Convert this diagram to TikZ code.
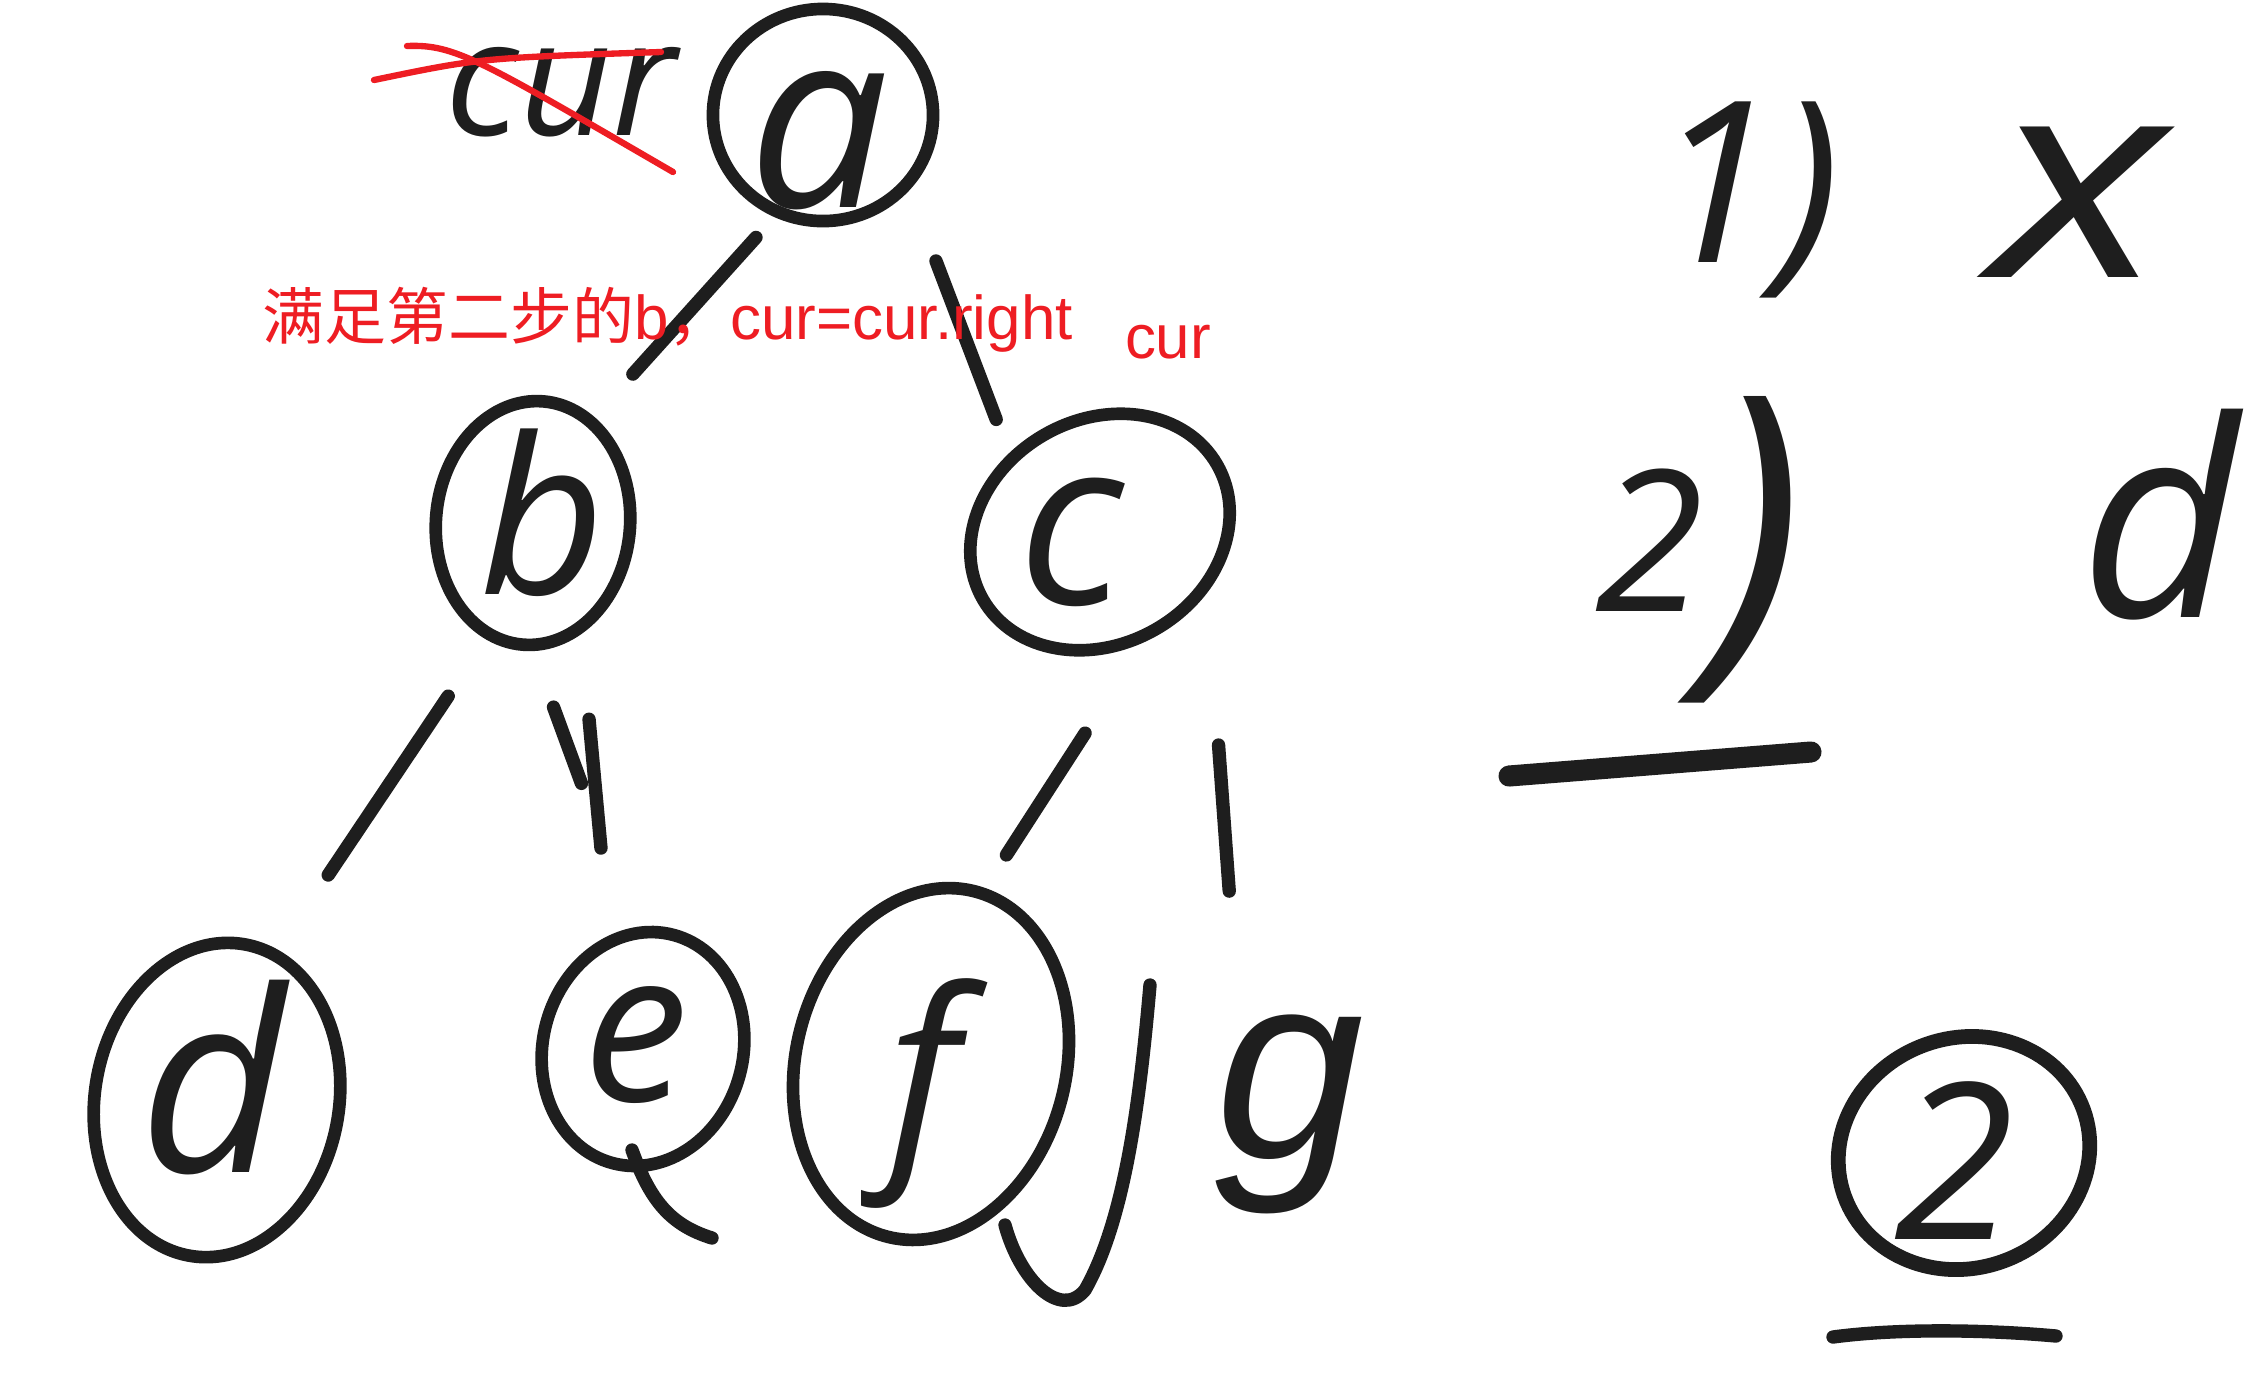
\documentclass[tikz,border=0pt]{standalone}
\usepackage{fontspec}
\setmainfont{Liberation Sans}
\newfontfamily\cjk{Noto Sans CJK SC}
\newfontfamily\handfont{Open Sans}
\usetikzlibrary{calc,shapes.geometric}
\definecolor{BoardInk}{HTML}{1E1E1E}
\definecolor{NoteRed}{HTML}{EE1D23}
\tikzset{
  ink/.style={BoardInk,line width=3.8pt,line cap=round,line join=round},
  ring/.style={ellipse,draw=BoardInk,line width=3.6pt,inner sep=0pt},
  letter/.style={text=BoardInk,inner sep=0pt,font=\handfont\itshape\fontsize{#1}{#1}\selectfont},
  note/.style={text=NoteRed,inner sep=0pt,font=\fontsize{17.6}{20}\selectfont},
  strike/.style={NoteRed,line width=1.8pt,line cap=round}
}

\begin{document}
\begin{tikzpicture}[x=0.01cm,y=-0.01cm]
\fill[white] (0,0) rectangle (2254,1396);
\useasboundingbox (0,0) rectangle (2254,1396);

% rings of the tree
\node[ring,minimum width=2.2cm,minimum height=2.12cm] (a) at (823,115) {};
\node[ring,minimum width=1.94cm,minimum height=2.44cm,rotate=-5] (b) at (533,523) {};
\node[ring,minimum width=2.7cm,minimum height=2.24cm,rotate=30] (c) at (1100,532) {};
\node[ring,minimum width=2.44cm,minimum height=3.16cm,rotate=-10] (d) at (217,1100) {};
\node[ring,minimum width=2cm,minimum height=2.36cm,rotate=-15] (e) at (643,1049) {};
\node[ring,minimum width=2.7cm,minimum height=3.56cm,rotate=-14] (f) at (931,1064) {};

% letters
\node[letter=71pt] (a-txt) at ($(a)+(-4,26)$) {a};
\node[letter=62pt] (b-txt) at ($(b)+(9,-10)$) {b};
\node[letter=66pt] (c-txt) at ($(c)+(-29,10)$) {c};
\node[letter=72pt] (d-txt) at ($(d)+(-4,-22)$) {d};
\node[letter=60pt] (e-txt) at ($(e)+(-7,-4)$) {e};
\node[letter=65pt] (f-txt) at ($(f)+(-8,29)$) {f};
\node[text=BoardInk,inner sep=0pt,font=\itshape\fontsize{76}{76}\selectfont] (g) at (1290,1114) {g};

% edges
\draw[ink] ($(a)!.30!(b)+(20,0)$) -- ($(a)!.635!(b)+(-6,0)$);
\draw[ink] ($(a)!.35!(c)+(16,0)$) -- ($(a)!.73!(c)+(-29,0)$);
\draw[ink] ($(b)!.30!(d)+(10,0)$) -- ($(b)!.61!(d)+(-12,0)$);
\draw[ink] ($(b)!.35!(e)+(-18,0)$) -- ($(b)!.495!(e)+(-6,0)$);
\draw[ink] ($(b)!.373!(e)+(15,0)$) -- ($(b)!.618!(e)$);
\draw[ink] ($(c)!.378!(f)+(49,0)$) -- ($(c)!.607!(f)+(9,0)$);
\draw[ink] ($(c)!.366!(g)+(49,0)$) -- ($(c)!.617!(g)+(12,0)$);

% extra strokes
\draw[ink] (632,1150) .. controls (650,1200) and (670,1225) .. (712,1238);
\draw[ink] (1150,985) .. controls (1140,1100) and (1125,1220) .. (1085,1290) .. controls (1060,1320) and (1020,1280) .. (1005,1225);

% crossed out cur
\node[letter=46pt] (cur-old) at (561,92) {cur};
\draw[strike] (374,80) .. controls (480,58) .. (661,52);
\draw[strike] (407,46) .. controls (455,44) and (480,60) .. (673,172);

% red notes
\node[note,anchor=west] (note) at (262,320) {{\cjk 满足第二步的}b{\cjk ，}cur=cur.right};
\node[note] (cur-new) at (1168,342) {cur};

% right side
\node[letter=64pt] (one) at (1746,200) {1)};
\node[letter=80pt,xscale=1.3] (x) at (2078,202) {x};
\node[letter=56pt] (two) at (1700,550) {\raisebox{0.36cm}{2}{\fontsize{100}{100}\selectfont)}};
\draw[ink,line width=6pt] (1509,776) -- (1811,752);
\node[letter=78pt] (d-right) at (2160,515) {d};
\node[ring,minimum width=2.54cm,minimum height=2.3cm,rotate=20,line width=4.2pt] (c2) at (1964,1153) {};
\node[letter=62pt] (c2-txt) at ($(c2)+(-9,8)$) {2};
\draw[ink] (1833,1337) .. controls (1900,1328) and (1990,1330) .. (2056,1336);
\end{tikzpicture}
\end{document}
